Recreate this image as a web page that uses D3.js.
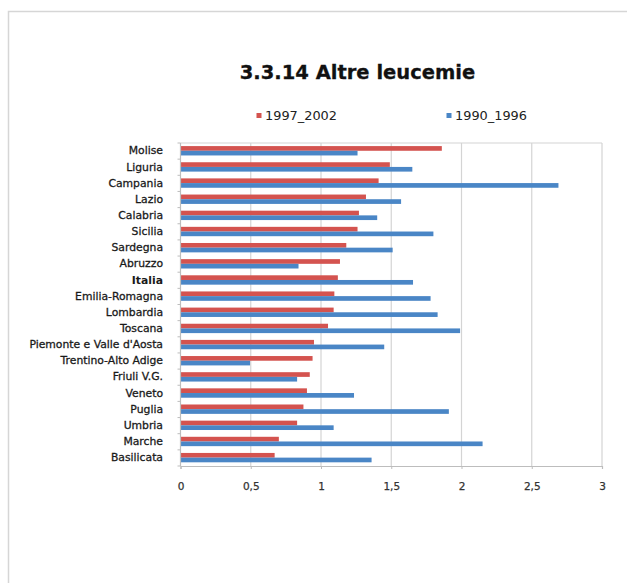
<!DOCTYPE html>
<html>
<head>
<meta charset="utf-8">
<script src="https://cdn.jsdelivr.net/npm/d3@7"></script>
<style>
  html, body { margin: 0; padding: 0; background: #fff; }
  svg { display: block; }
  text { font-family: "DejaVu Sans", Verdana, sans-serif; }
</style>
</head>
<body>
<script>
const categories = ["Molise","Liguria","Campania","Lazio","Calabria","Sicilia","Sardegna","Abruzzo","Italia","Emilia-Romagna","Lombardia","Toscana","Piemonte e Valle d'Aosta","Trentino-Alto Adige","Friuli V.G.","Veneto","Puglia","Umbria","Marche","Basilicata"];
const values1997_2002 = [1.86,1.49,1.41,1.32,1.27,1.26,1.18,1.135,1.12,1.095,1.09,1.05,0.95,0.94,0.92,0.90,0.875,0.83,0.70,0.67];
const values1990_1996 = [1.26,1.65,2.69,1.57,1.40,1.80,1.51,0.84,1.655,1.78,1.83,1.99,1.45,0.495,0.83,1.235,1.91,1.09,2.15,1.36];
const seriesNames = ["1997_2002","1990_1996"];
const seriesColors = ["#d4534f","#4a86c6"];
const xTicks = [0,0.5,1,1.5,2,2.5,3];
const xTickLabels = ["0","0,5","1","1,5","2","2,5","3"];
const title = "3.3.14 Altre leucemie";

const W = 627, H = 583;
const svg = d3.select("body").append("svg").attr("width", W).attr("height", H);

// outer frame
svg.append("path").attr("d", `M8.5,${H} L8.5,11.5 L${W},11.5`)
  .attr("fill","none").attr("stroke","#d6d6d6").attr("stroke-width",1.5);

const plot = {left: 180.5, right: 602, top: 143, bottom: 466};
const x = d3.scaleLinear().domain([0,3]).range([plot.left, plot.right]);
const y = d3.scaleBand().domain(categories).range([plot.top, plot.bottom]).paddingInner(0).paddingOuter(0);
const bh = y.bandwidth()*0.29;
const off = (y.bandwidth() - 2*bh)/2 - 0.3;

// title
svg.append("text").attr("x", 357.5).attr("y", 79).attr("text-anchor","middle")
  .attr("font-weight","bold").attr("font-size", 19.5).attr("fill","#111")
  .attr("stroke","#111").attr("stroke-width",0.3).text(title);

// legend
const legendX = [256.5, 446.5];
seriesNames.forEach((n,i) => {
  svg.append("rect").attr("x", legendX[i]).attr("y", 113).attr("width",5).attr("height",5).attr("fill", seriesColors[i]);
  svg.append("text").attr("x", legendX[i]+8.5).attr("y", 119.5).attr("font-size", 12).attr("fill","#222")
    .attr("textLength", 72).attr("lengthAdjust","spacingAndGlyphs").text(n);
});

// gridlines
svg.append("g").selectAll("line").data(xTicks.slice(1)).join("line")
  .attr("x1", d=>x(d)).attr("x2", d=>x(d)).attr("y1", plot.top).attr("y2", plot.bottom)
  .attr("stroke","#d4d4d4").attr("stroke-width",1.2);
// top border
svg.append("line").attr("x1", plot.left).attr("x2", plot.right).attr("y1", plot.top).attr("y2", plot.top)
  .attr("stroke","#d4d4d4").attr("stroke-width",1.2);

// bars
const g = svg.append("g");
[values1997_2002, values1990_1996].forEach((vals, si) => {
  g.selectAll(null).data(categories).join("rect")
    .attr("x", x(0))
    .attr("y", d => y(d) + off + si*bh)
    .attr("width", (d,i) => x(vals[i]) - x(0))
    .attr("height", bh)
    .attr("fill", seriesColors[si]);
});

// x axis
const xAxis = d3.axisBottom(x).tickValues(xTicks).tickSize(3).tickFormat((d,i)=>xTickLabels[i]);
const xa = svg.append("g").attr("transform", `translate(0,${plot.bottom})`).call(xAxis);
xa.select(".domain").attr("stroke","#bdbdbd").attr("stroke-width",1.2);
xa.selectAll(".tick line").attr("stroke","#bdbdbd");
xa.selectAll(".tick text").attr("font-size", 10.5).attr("fill","#333").attr("y", 24).attr("dy", 0)
  .attr("stroke","#333").attr("stroke-width",0.25)
  .attr("font-family","DejaVu Sans, sans-serif");

// y axis
const ya = svg.append("g").attr("transform", `translate(${plot.left},0)`);
ya.append("line").attr("x1",0).attr("x2",0).attr("y1",plot.top).attr("y2",plot.bottom).attr("stroke","#bdbdbd").attr("stroke-width",1.2);
const bounds = categories.map(c => y(c)).concat([plot.bottom]);
ya.selectAll(".yt").data(bounds).join("line").attr("class","yt")
  .attr("x1",-3).attr("x2",0).attr("y1",d=>d).attr("y2",d=>d).attr("stroke","#bdbdbd");
ya.selectAll(".yl").data(categories).join("text").attr("class","yl")
  .attr("x", -17.5).attr("y", d => y(d) + y.bandwidth()/2 - 0.5)
  .attr("dy","0.35em").attr("text-anchor","end")
  .attr("font-size", 10.8)
  .attr("font-weight", d => d === "Italia" ? "bold" : "normal")
  .attr("fill","#1a1a1a")
  .attr("stroke", d => d === "Italia" ? "none" : "#1a1a1a").attr("stroke-width", 0.3)
  .text(d => d);
</script>
</body>
</html>
